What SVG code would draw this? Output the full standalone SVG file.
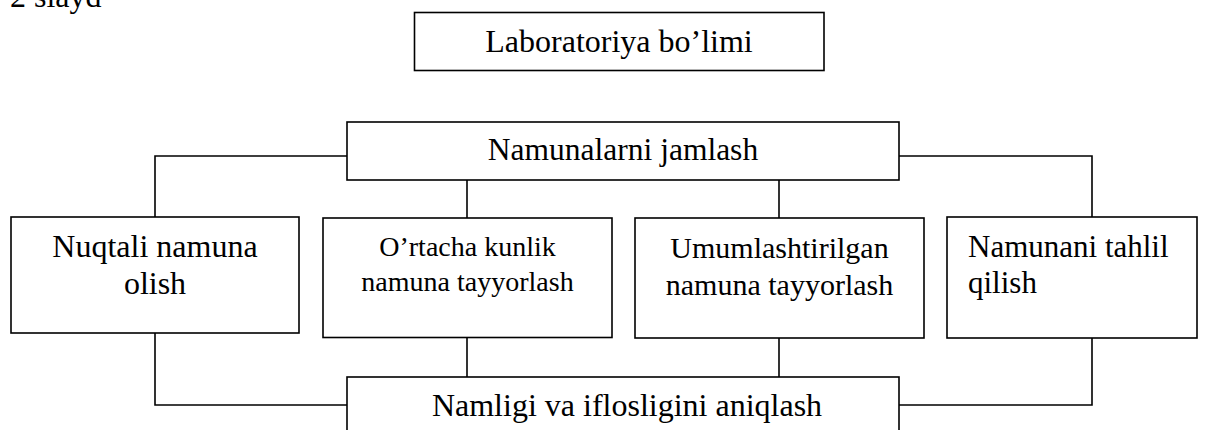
<svg xmlns="http://www.w3.org/2000/svg" width="1208" height="430" viewBox="0 0 1208 430">
  <style>
    .box { fill: #ffffff; stroke: #000000; stroke-width: 1.6; }
    .link { fill: none; stroke: #000000; stroke-width: 1.6; }
    .t { font-family: "Liberation Serif", "Times New Roman", serif; fill: #000000; }
    .c { text-anchor: middle; }
  </style>
  <rect width="1208" height="430" fill="#ffffff"/>

  <!-- page caption, clipped at the top edge -->
  <text class="t" x="10" y="7" font-size="32">2 slayd</text>

  <!-- connectors -->
  <g id="connectors">
    <polyline class="link" points="347,156 155,156 155,217"/>
    <polyline class="link" points="899,156 1092,156 1092,217"/>
    <line class="link" x1="467" y1="180" x2="467" y2="218"/>
    <line class="link" x1="779" y1="180" x2="779" y2="218"/>
    <polyline class="link" points="155,333 155,405 347,405"/>
    <line class="link" x1="467" y1="337.5" x2="467" y2="377"/>
    <line class="link" x1="779" y1="338" x2="779" y2="377"/>
    <polyline class="link" points="899,405 1092,405 1092,338"/>
  </g>

  <g id="laboratoriya">
    <rect class="box" x="414.5" y="12.5" width="409.5" height="58"/>
    <text class="t c" x="619" y="52" font-size="32">Laboratoriya bo’limi</text>
  </g>

  <g id="namunalarni-jamlash">
    <rect class="box" x="347" y="122" width="552" height="58"/>
    <text class="t c" x="623" y="160" font-size="31.5">Namunalarni jamlash</text>
  </g>

  <g id="nuqtali">
    <rect class="box" x="11" y="217" width="288" height="116"/>
    <text class="t c" font-size="32"><tspan x="155" y="257">Nuqtali namuna</tspan><tspan x="155" y="294">olish</tspan></text>
  </g>

  <g id="ortacha">
    <rect class="box" x="323" y="218" width="289" height="119.5"/>
    <text class="t c" font-size="28"><tspan x="467.5" y="256">O’rtacha kunlik</tspan><tspan x="467.5" y="291">namuna tayyorlash</tspan></text>
  </g>

  <g id="umumlashtirilgan">
    <rect class="box" x="635" y="218" width="289" height="120"/>
    <text class="t c" font-size="30"><tspan x="779.5" y="258">Umumlashtirilgan</tspan><tspan x="779.5" y="295">namuna tayyorlash</tspan></text>
  </g>

  <g id="tahlil">
    <rect class="box" x="947" y="217" width="250" height="121"/>
    <text class="t" font-size="31"><tspan x="968" y="257">Namunani tahlil</tspan><tspan x="968" y="293">qilish</tspan></text>
  </g>

  <g id="namligi">
    <rect class="box" x="347" y="377" width="552" height="80"/>
    <text class="t c" x="627" y="416" font-size="32">Namligi va iflosligini aniqlash</text>
  </g>
</svg>
